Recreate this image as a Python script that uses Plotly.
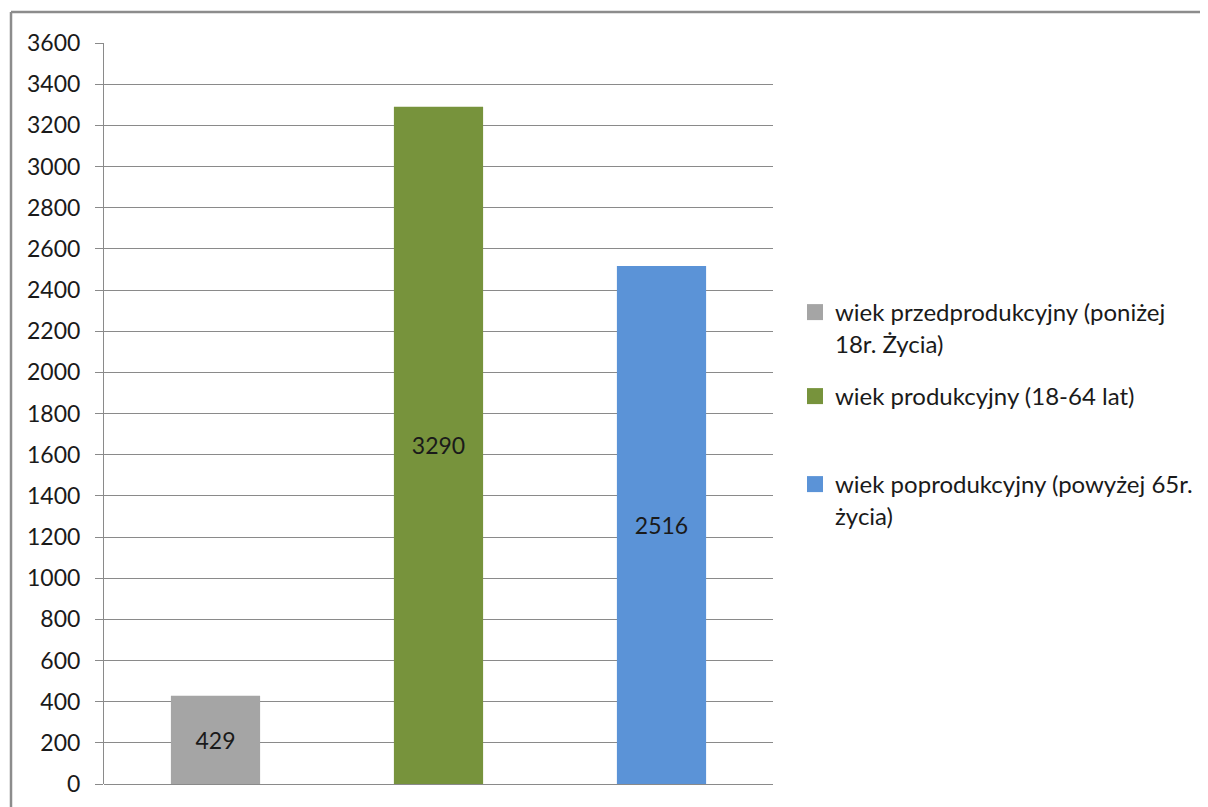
import plotly.graph_objects as go

categories = ["wiek przedprodukcyjny (poniżej 18r. Życia)",
              "wiek produkcyjny (18-64 lat)",
              "wiek poprodukcyjny (powyżej 65r. życia)"]
legend_names = ["wiek przedprodukcyjny (poniżej<br>18r. Życia)",
                "wiek produkcyjny (18-64 lat)",
                "wiek poprodukcyjny (powyżej 65r.<br>życia)"]
values = [429, 3290, 2516]
colors = ["#A5A5A5", "#77933C", "#5B93D7"]
y_ticks = list(range(0, 3601, 200))

# page body has an 8px margin; figure coordinates are screen - 8
OFF = 8
W, H = 1215, 799
L, R, T, B = 104 - OFF, 773 - OFF, 43 - OFF, 784 - OFF
pw, ph = R - L, B - T

def px(xs):
    return (xs - OFF - L) / pw

def py(ys):
    return (B - (ys - OFF)) / ph

FONT = "Lato, 'Open Sans', sans-serif"

fig = go.Figure()
legend_ids = ["legend", "legend2", "legend3"]
for i, (cat, name, v, c) in enumerate(zip(categories, legend_names, values, colors)):
    fig.add_trace(go.Bar(
        x=[cat], y=[v], name=name, marker=dict(color=c, line=dict(width=0)),
        width=0.4, text=[str(v)], textposition="inside", insidetextanchor="middle",
        textangle=0, constraintext="none",
        textfont=dict(family=FONT, size=23, color="#1a1a1a"),
        showlegend=False,
    ))
    # legend-only entry with a larger square swatch
    fig.add_trace(go.Scatter(
        x=[cat], y=[None], name=name, mode="markers",
        marker=dict(symbol="square", size=16, color=c),
        legend=legend_ids[i], showlegend=True, hoverinfo="skip",
    ))

legend_common = dict(
    xanchor="left", yanchor="top", bgcolor="rgba(0,0,0,0)",
    font=dict(family=FONT, size=24, color="#1a1a1a"),
    valign="top", itemwidth=30, tracegroupgap=0, itemsizing="trace",
)
leg_x = 795
leg_tops = [290, 374, 462]
fig.update_layout(
    legend=dict(x=px(leg_x), y=py(leg_tops[0]), **legend_common),
    legend2=dict(x=px(leg_x), y=py(leg_tops[1]), **legend_common),
    legend3=dict(x=px(leg_x), y=py(leg_tops[2]), **legend_common),
)

border = dict(type="line", xref="paper", yref="paper",
              line=dict(color="#8c8c8c", width=2.5), layer="below")
fig.update_layout(
    width=W, height=H,
    margin=dict(l=L, r=W - R, t=T, b=H - B, pad=0),
    paper_bgcolor="white", plot_bgcolor="white",
    barmode="overlay",
    font=dict(family=FONT, size=23, color="#1a1a1a"),
    xaxis=dict(showticklabels=False, showgrid=False, zeroline=False,
               showline=False, ticks="", range=[-0.5, 2.5], automargin=False),
    yaxis=dict(range=[0, 3600], tickvals=y_ticks, ticktext=[str(t) for t in y_ticks],
               showgrid=True, gridcolor="#8a8a8a", gridwidth=1,
               zeroline=True, zerolinecolor="#8a8a8a", zerolinewidth=1,
               showline=True, linecolor="#8a8a8a", linewidth=1,
               ticks="outside", ticklen=8, tickcolor="#8a8a8a",
               ticklabelstandoff=10, automargin=False,
               tickfont=dict(family=FONT, size=23, color="#1a1a1a")),
    shapes=[
        dict(border, x0=px(11), x1=px(1240), y0=py(12), y1=py(12)),
        dict(border, x0=px(11), x1=px(11), y0=py(12), y1=py(840)),
    ],
)

fig.write_html("out.html")
